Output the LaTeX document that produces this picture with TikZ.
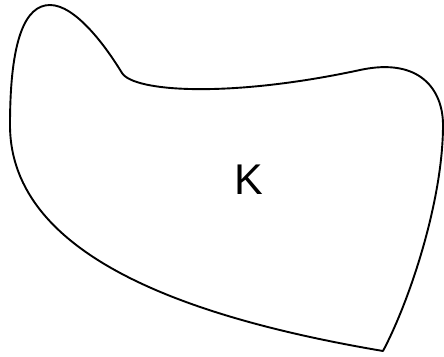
\documentclass[tikz,border=0pt]{standalone}
\usepackage{fontspec}
\setmainfont{Liberation Sans}
\begin{document}
\begin{tikzpicture}[x=1pt,y=-1pt,
  outline/.style={line width=1.9pt,line join=round},
  lbl/.style={font=\fontsize{43}{43}\selectfont,inner sep=0pt}]
\useasboundingbox (0,0) rectangle (444,356);
\draw[outline] (383,351) .. controls (200,320) and (10,260) .. (10,125)
  .. controls (10,40) and (25,5) .. (50,5)
  .. controls (75,5) and (105,45) .. (122,73)
  .. controls (134,92) and (230,98) .. (360,70)
  .. controls (420,57) and (443,90) .. (443,125)
  .. controls (443,200) and (410,300) .. (383,351) -- cycle;
\node[lbl] (k) at (248.5,180) {K};
\end{tikzpicture}
\end{document}
